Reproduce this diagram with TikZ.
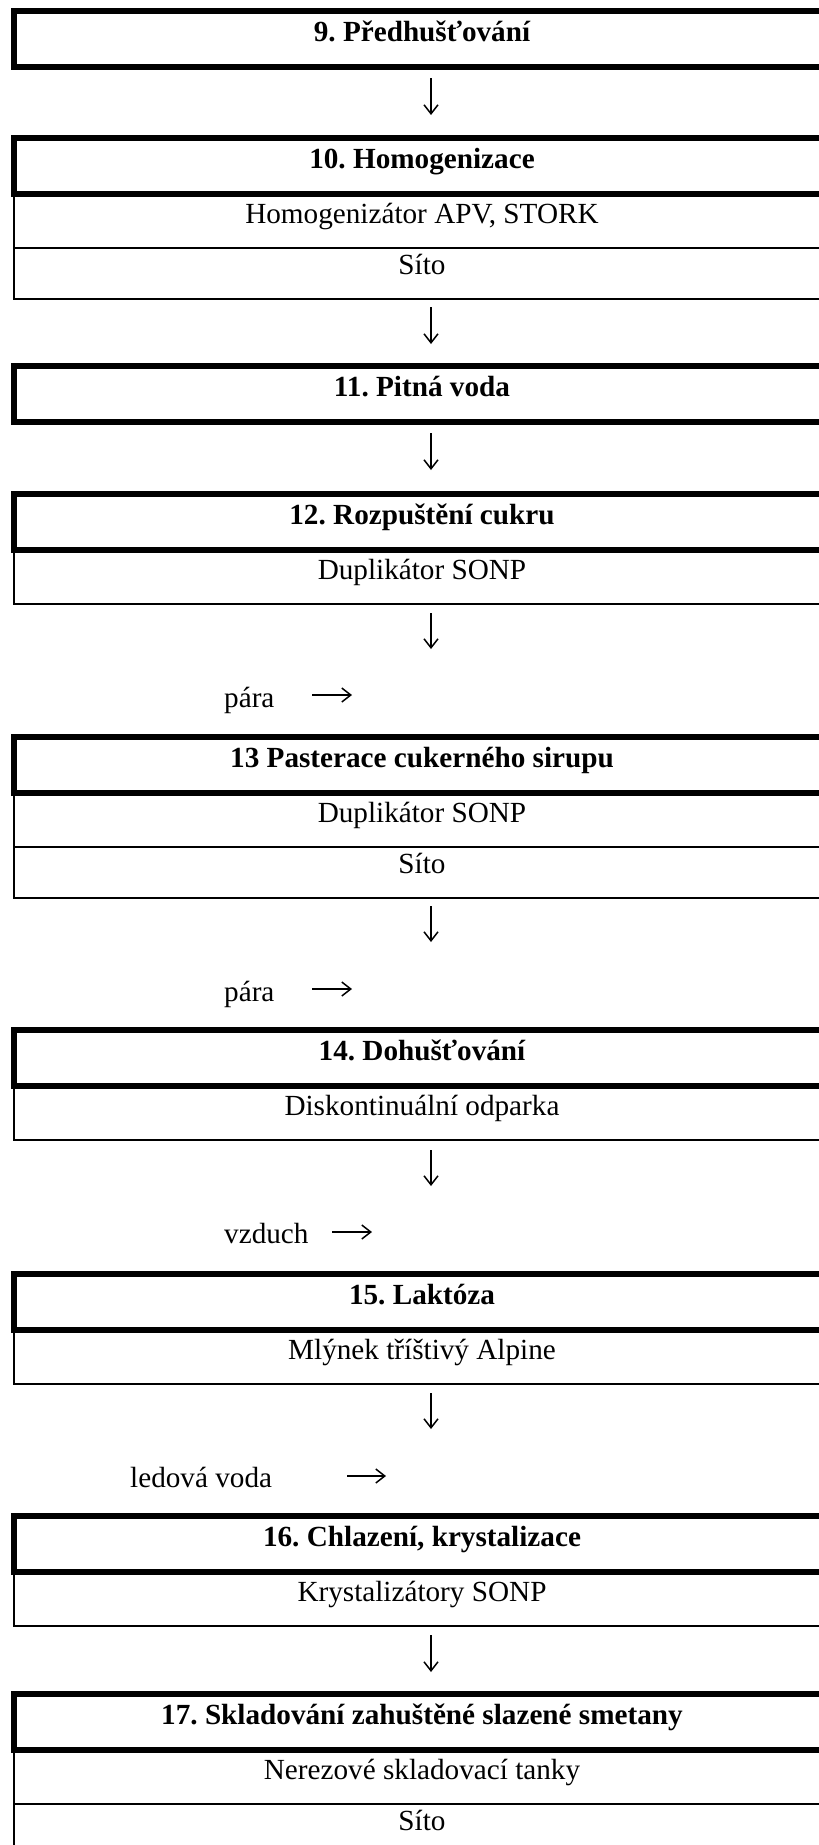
\documentclass[tikz,border=0pt]{standalone}
\usepackage{fontspec}
\setmainfont{Liberation Serif}
\usetikzlibrary{arrows.meta}
\frenchspacing
\tikzset{
  txtfont/.style={font=\fontsize{29.2}{35}\selectfont},
  hdr/.style={draw, line width=6pt, rectangle, anchor=north, minimum width=816pt,
    minimum height=55.5pt, inner sep=0pt, outer sep=0pt,
    font=\fontsize{29.2}{35}\selectfont\bfseries, text height=20pt, text depth=15pt},
  rowa/.style={draw, line width=2pt, rectangle, anchor=north, minimum width=816pt,
    minimum height=54pt, inner sep=0pt, outer sep=0pt, txtfont,
    text height=20pt, text depth=14pt},
  rowb/.style={draw, line width=2pt, rectangle, anchor=north, minimum width=816pt,
    minimum height=51pt, inner sep=0pt, outer sep=0pt, txtfont,
    text height=20pt, text depth=17pt},
  lbl/.style={anchor=base west, inner sep=0pt, txtfont},
  arr/.style={line width=1.5pt, -{Straight Barb[length=9pt,width=14pt]}}
}
\begin{document}
\begin{tikzpicture}[x=1pt,y=-1pt]
\useasboundingbox (0,0) rectangle (819,1845);
\fill[white] (0,0) rectangle (819,1845);
\clip (0,0) rectangle (819,1845);

% boxes
\node[hdr] (b9) at (422,11) {9. Předhušťování};

\node[hdr] (b10) at (422,138) {10. Homogenizace};
\node[rowa] (r10a) at (b10.south) {Homogenizátor APV, STORK};
\node[rowb] (r10b) at (r10a.south) {Síto};

\node[hdr] (b11) at (422,366) {11. Pitná voda};

\node[hdr] (b12) at (422,494) {12. Rozpuštění cukru};
\node[rowa] (r12a) at (b12.south) {Duplikátor SONP};

\node[hdr] (b13) at (422,737) {13 Pasterace cukerného sirupu};
\node[rowa] (r13a) at (b13.south) {Duplikátor SONP};
\node[rowb] (r13b) at (r13a.south) {Síto};

\node[hdr] (b14) at (422,1030) {14. Dohušťování};
\node[rowa] (r14a) at (b14.south) {Diskontinuální odparka};

\node[hdr] (b15) at (422,1274) {15. Laktóza};
\node[rowa] (r15a) at (b15.south) {Mlýnek tříštivý Alpine};

\node[hdr] (b16) at (422,1516) {16. Chlazení, krystalizace};
\node[rowa] (r16a) at (b16.south) {Krystalizátory SONP};

\node[hdr] (b17) at (422,1694) {17. Skladování zahuštěné slazené smetany};
\node[rowa] (r17a) at (b17.south) {Nerezové skladovací tanky};
\node[rowb] (r17b) at (r17a.south) {Síto};

% labels
\node[lbl] (l13) at (224,707) {pára};
\node[lbl] (l14) at (224,1001) {pára};
\node[lbl] (l15) at (224,1243) {vzduch};
\node[lbl] (l16) at (130,1487) {ledová voda};

% arrow end points
\coordinate (a1s) at (431,78);   \coordinate (a1e) at (431,115);
\coordinate (a2s) at (431,307);  \coordinate (a2e) at (431,344);
\coordinate (a3s) at (431,433);  \coordinate (a3e) at (431,470);
\coordinate (a4s) at (431,613);  \coordinate (a4e) at (431,649);
\coordinate (a5s) at (431,906);  \coordinate (a5e) at (431,942);
\coordinate (a6s) at (431,1150); \coordinate (a6e) at (431,1186);
\coordinate (a7s) at (431,1393); \coordinate (a7e) at (431,1429);
\coordinate (a8s) at (431,1635); \coordinate (a8e) at (431,1672);

\coordinate (h1s) at (312,695);  \coordinate (h1e) at (352,695);
\coordinate (h2s) at (312,989);  \coordinate (h2e) at (352,989);
\coordinate (h3s) at (332,1232); \coordinate (h3e) at (372,1232);
\coordinate (h4s) at (347,1476); \coordinate (h4e) at (386,1476);

\foreach \i in {1,...,8} { \draw[arr] (a\i s) -- (a\i e); }
\foreach \i in {1,...,4} { \draw[arr] (h\i s) -- (h\i e); }
\end{tikzpicture}
\end{document}
